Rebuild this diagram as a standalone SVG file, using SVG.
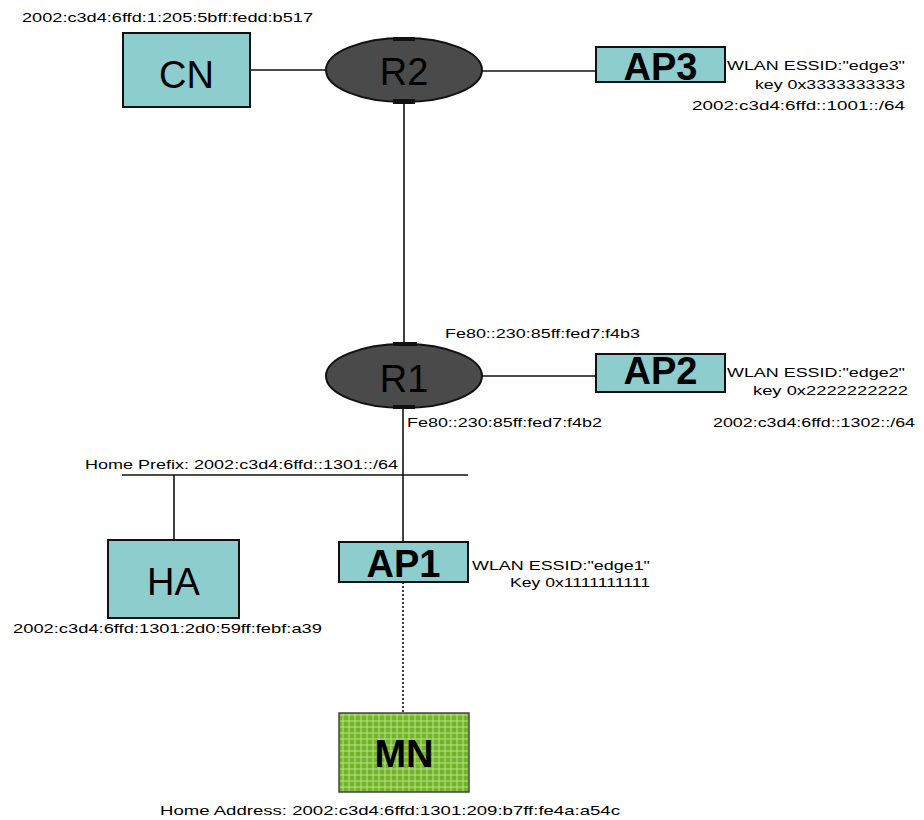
<svg xmlns="http://www.w3.org/2000/svg" width="924" height="820" viewBox="0 0 924 820">
<style>
.box{fill:#8ecdcd;stroke:#111;stroke-width:2}
.rt{fill:#4a4a4a;stroke:#111;stroke-width:2}
.tab{fill:#111}
.lbl{font-family:"Liberation Sans",Arial,sans-serif;font-size:38px;fill:#000;text-anchor:middle}
.b{font-weight:bold}
.sm{font-family:"Liberation Sans",Arial,sans-serif;font-size:13px;fill:#000}
.ln{stroke:#111;stroke-width:1.6;fill:none}
.dot{stroke:#111;stroke-width:1.6;stroke-dasharray:2 2;fill:none}
</style>
<defs>
<pattern id="grid" width="6" height="6" patternUnits="userSpaceOnUse">
<rect width="6" height="6" fill="#72b52c"/>
<path d="M0 1H6M1 0V6" stroke="#b9e27f" stroke-width="1"/>
</pattern>
</defs>
<rect width="924" height="820" fill="#fff"/>
<g id="connectors">
<line class="ln" x1="250" y1="70" x2="326" y2="70"/>
<line class="ln" x1="482" y1="71" x2="596" y2="71"/>
<line class="ln" x1="404" y1="102" x2="404" y2="343"/>
<line class="ln" x1="482" y1="376" x2="596" y2="376"/>
<line class="ln" x1="403" y1="408" x2="403" y2="542"/>
<line class="ln" x1="122" y1="475" x2="468" y2="475"/>
<line class="ln" x1="174" y1="475" x2="174" y2="540"/>
<line class="dot" x1="403" y1="582" x2="403" y2="713"/>
</g>
<g id="CN">
<rect class="box" x="123" y="33" width="127" height="74"/>
<text class="lbl" x="186.5" y="88">CN</text>
<text class="sm" x="22" y="22" textLength="291" lengthAdjust="spacingAndGlyphs">2002:c3d4:6ffd:1:205:5bff:fedd:b517</text>
</g>
<g id="R2">
<ellipse class="rt" cx="404" cy="70" rx="78" ry="32"/>
<rect class="tab" x="393" y="37" width="22" height="4"/>
<rect class="tab" x="393" y="99" width="22" height="5"/>
<text class="lbl" x="404" y="85">R2</text>
</g>
<g id="AP3">
<rect class="box" x="596" y="47" width="129" height="35"/>
<text class="lbl b" x="660.5" y="80">AP3</text>
<text class="sm" x="727" y="70" textLength="178" lengthAdjust="spacingAndGlyphs">WLAN ESSID:&quot;edge3&quot;</text>
<text class="sm" x="755" y="89" textLength="150" lengthAdjust="spacingAndGlyphs">key 0x3333333333</text>
<text class="sm" x="692" y="110" textLength="213" lengthAdjust="spacingAndGlyphs">2002:c3d4:6ffd::1001::/64</text>
</g>
<g id="R1">
<ellipse class="rt" cx="404" cy="376" rx="78" ry="32"/>
<rect class="tab" x="393" y="342" width="24" height="4"/>
<rect class="tab" x="393" y="405" width="22" height="4"/>
<text class="lbl" x="404" y="392">R1</text>
<text class="sm" x="445" y="338" textLength="195" lengthAdjust="spacingAndGlyphs">Fe80::230:85ff:fed7:f4b3</text>
<text class="sm" x="407" y="427" textLength="195" lengthAdjust="spacingAndGlyphs">Fe80::230:85ff:fed7:f4b2</text>
</g>
<g id="AP2">
<rect class="box" x="596" y="354" width="129" height="38"/>
<text class="lbl b" x="660.5" y="384">AP2</text>
<text class="sm" x="727" y="377" textLength="178" lengthAdjust="spacingAndGlyphs">WLAN ESSID:&quot;edge2&quot;</text>
<text class="sm" x="753" y="395" textLength="155" lengthAdjust="spacingAndGlyphs">key 0x2222222222</text>
<text class="sm" x="713" y="427" textLength="202" lengthAdjust="spacingAndGlyphs">2002:c3d4:6ffd::1302::/64</text>
</g>
<g id="home-prefix">
<text class="sm" x="85" y="469" textLength="313" lengthAdjust="spacingAndGlyphs">Home Prefix: 2002:c3d4:6ffd::1301::/64</text>
</g>
<g id="HA">
<rect class="box" x="108" y="540" width="131" height="78"/>
<text class="lbl" x="173.5" y="595">HA</text>
<text class="sm" x="13" y="633" textLength="309" lengthAdjust="spacingAndGlyphs">2002:c3d4:6ffd:1301:2d0:59ff:febf:a39</text>
</g>
<g id="AP1">
<rect class="box" x="339" y="542" width="129" height="40"/>
<text class="lbl b" x="403.5" y="577">AP1</text>
<text class="sm" x="472" y="570" textLength="178" lengthAdjust="spacingAndGlyphs">WLAN ESSID:&quot;edge1&quot;</text>
<text class="sm" x="510" y="587" textLength="140" lengthAdjust="spacingAndGlyphs">Key 0x1111111111</text>
</g>
<g id="MN">
<rect x="339" y="713" width="130" height="79" fill="url(#grid)" stroke="#444" stroke-width="1.5"/>
<text class="lbl b" x="404" y="767">MN</text>
<text class="sm" x="160" y="815" textLength="460" lengthAdjust="spacingAndGlyphs">Home Address: 2002:c3d4:6ffd:1301:209:b7ff:fe4a:a54c</text>
</g>
</svg>
